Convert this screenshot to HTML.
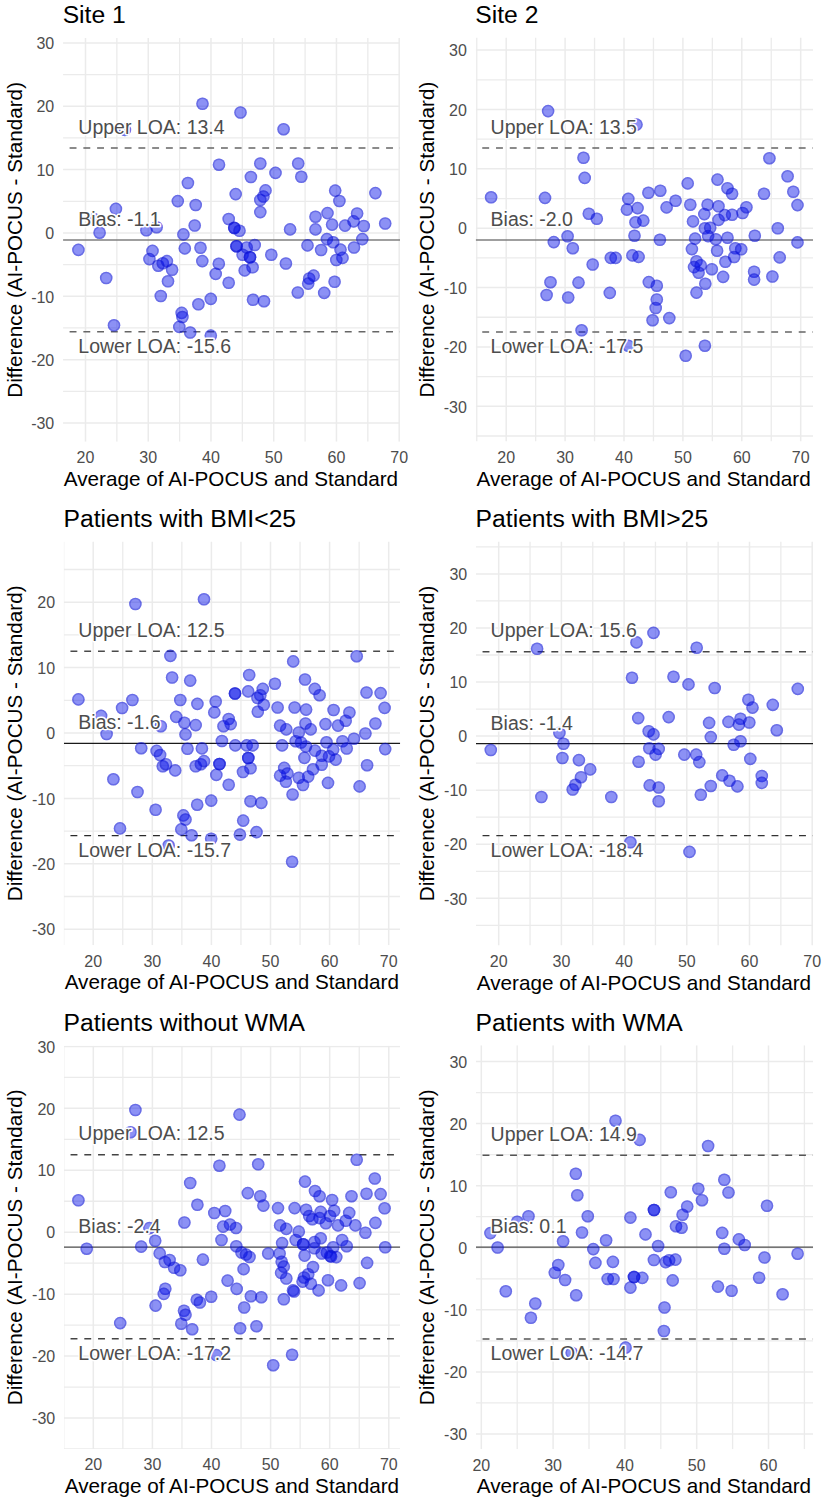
<!DOCTYPE html><html><head><meta charset="utf-8"><style>html,body{margin:0;padding:0;background:#fff;}svg{display:block;}text{font-family:"Liberation Sans", sans-serif;}</style></head><body>
<svg width="826" height="1504" viewBox="0 0 826 1504">
<rect width="826" height="1504" fill="#fff"/>
<defs><g id="pt"><circle r="6.3" fill="rgba(0,11,233,0.45)"/><circle r="5.55" fill="none" stroke="rgba(23,28,195,0.3)" stroke-width="1.5"/></g></defs>
<clipPath id="cp1"><rect x="63.05" y="38.05" width="336.95" height="403.65"/></clipPath>
<g clip-path="url(#cp1)">
<line x1="63.05" y1="391.32" x2="400" y2="391.32" stroke="#EBEBEB" stroke-width="1.3"/>
<line x1="63.05" y1="327.97" x2="400" y2="327.97" stroke="#EBEBEB" stroke-width="1.3"/>
<line x1="63.05" y1="264.62" x2="400" y2="264.62" stroke="#EBEBEB" stroke-width="1.3"/>
<line x1="63.05" y1="201.28" x2="400" y2="201.28" stroke="#EBEBEB" stroke-width="1.3"/>
<line x1="63.05" y1="137.93" x2="400" y2="137.93" stroke="#EBEBEB" stroke-width="1.3"/>
<line x1="116.87" y1="38.05" x2="116.87" y2="441.7" stroke="#EBEBEB" stroke-width="1.3"/>
<line x1="63.05" y1="74.58" x2="400" y2="74.58" stroke="#EBEBEB" stroke-width="1.3"/>
<line x1="179.61" y1="38.05" x2="179.61" y2="441.7" stroke="#EBEBEB" stroke-width="1.3"/>
<line x1="242.35" y1="38.05" x2="242.35" y2="441.7" stroke="#EBEBEB" stroke-width="1.3"/>
<line x1="305.09" y1="38.05" x2="305.09" y2="441.7" stroke="#EBEBEB" stroke-width="1.3"/>
<line x1="367.83" y1="38.05" x2="367.83" y2="441.7" stroke="#EBEBEB" stroke-width="1.3"/>
<line x1="63.05" y1="423" x2="400" y2="423" stroke="#EBEBEB" stroke-width="1.5"/>
<line x1="63.05" y1="359.65" x2="400" y2="359.65" stroke="#EBEBEB" stroke-width="1.5"/>
<line x1="63.05" y1="296.3" x2="400" y2="296.3" stroke="#EBEBEB" stroke-width="1.5"/>
<line x1="63.05" y1="232.95" x2="400" y2="232.95" stroke="#EBEBEB" stroke-width="1.5"/>
<line x1="63.05" y1="169.6" x2="400" y2="169.6" stroke="#EBEBEB" stroke-width="1.5"/>
<line x1="85.5" y1="38.05" x2="85.5" y2="441.7" stroke="#EBEBEB" stroke-width="1.5"/>
<line x1="63.05" y1="106.25" x2="400" y2="106.25" stroke="#EBEBEB" stroke-width="1.5"/>
<line x1="148.24" y1="38.05" x2="148.24" y2="441.7" stroke="#EBEBEB" stroke-width="1.5"/>
<line x1="63.05" y1="42.9" x2="400" y2="42.9" stroke="#EBEBEB" stroke-width="1.5"/>
<line x1="210.98" y1="38.05" x2="210.98" y2="441.7" stroke="#EBEBEB" stroke-width="1.5"/>
<line x1="273.72" y1="38.05" x2="273.72" y2="441.7" stroke="#EBEBEB" stroke-width="1.5"/>
<line x1="336.46" y1="38.05" x2="336.46" y2="441.7" stroke="#EBEBEB" stroke-width="1.5"/>
<line x1="399.2" y1="38.05" x2="399.2" y2="441.7" stroke="#EBEBEB" stroke-width="1.5"/>
<line x1="63.05" y1="148.06" x2="400" y2="148.06" stroke="#666" stroke-width="1.5" stroke-dasharray="6.9 6.86" stroke-dashoffset="-6.55"/>
<line x1="63.05" y1="239.92" x2="400" y2="239.92" stroke="#7f7f7f" stroke-width="1.5"/>
<line x1="63.05" y1="331.78" x2="400" y2="331.78" stroke="#666" stroke-width="1.5" stroke-dasharray="6.9 6.86" stroke-dashoffset="-6.55"/>
<use href="#pt" x="202.5" y="103.8"/>
<use href="#pt" x="219" y="164.7"/>
<use href="#pt" x="187.9" y="183"/>
<use href="#pt" x="124.9" y="129.9"/>
<use href="#pt" x="240.5" y="112.5"/>
<use href="#pt" x="283.6" y="129.2"/>
<use href="#pt" x="260.3" y="163.5"/>
<use href="#pt" x="298.2" y="163.5"/>
<use href="#pt" x="250.9" y="177"/>
<use href="#pt" x="275.5" y="172.9"/>
<use href="#pt" x="301.3" y="176.8"/>
<use href="#pt" x="235.7" y="194.1"/>
<use href="#pt" x="265.5" y="190.4"/>
<use href="#pt" x="375.4" y="193.1"/>
<use href="#pt" x="335.2" y="190.6"/>
<use href="#pt" x="177.8" y="201.1"/>
<use href="#pt" x="195.7" y="205"/>
<use href="#pt" x="115.9" y="208.9"/>
<use href="#pt" x="94" y="219"/>
<use href="#pt" x="99.6" y="232.7"/>
<use href="#pt" x="194.7" y="225.5"/>
<use href="#pt" x="146.4" y="230.3"/>
<use href="#pt" x="156.6" y="227.2"/>
<use href="#pt" x="183.4" y="234.4"/>
<use href="#pt" x="228.7" y="219"/>
<use href="#pt" x="78.4" y="249.9"/>
<use href="#pt" x="152.5" y="250.9"/>
<use href="#pt" x="149.4" y="259.1"/>
<use href="#pt" x="158.3" y="265.7"/>
<use href="#pt" x="162.8" y="263.2"/>
<use href="#pt" x="166.9" y="261.1"/>
<use href="#pt" x="172.1" y="269.8"/>
<use href="#pt" x="184.8" y="248.4"/>
<use href="#pt" x="200.5" y="247.8"/>
<use href="#pt" x="202.3" y="261.1"/>
<use href="#pt" x="218.8" y="263.8"/>
<use href="#pt" x="215.7" y="273.9"/>
<use href="#pt" x="106.2" y="278"/>
<use href="#pt" x="168" y="281.3"/>
<use href="#pt" x="228.7" y="282.8"/>
<use href="#pt" x="263.4" y="196.5"/>
<use href="#pt" x="260.3" y="200"/>
<use href="#pt" x="260.3" y="212.1"/>
<use href="#pt" x="339.4" y="201"/>
<use href="#pt" x="234.2" y="227.7"/>
<use href="#pt" x="234.4" y="228.1"/>
<use href="#pt" x="239.5" y="230.8"/>
<use href="#pt" x="290.1" y="229.4"/>
<use href="#pt" x="315.5" y="216.7"/>
<use href="#pt" x="327.5" y="213.1"/>
<use href="#pt" x="315.5" y="229.4"/>
<use href="#pt" x="332.1" y="224.6"/>
<use href="#pt" x="345" y="225.6"/>
<use href="#pt" x="357.1" y="213.5"/>
<use href="#pt" x="353.6" y="221.4"/>
<use href="#pt" x="363.8" y="226"/>
<use href="#pt" x="385.2" y="223.5"/>
<use href="#pt" x="362.3" y="239.1"/>
<use href="#pt" x="326.9" y="239.1"/>
<use href="#pt" x="333.2" y="242.3"/>
<use href="#pt" x="307.5" y="245.4"/>
<use href="#pt" x="321.1" y="250"/>
<use href="#pt" x="340.5" y="249.6"/>
<use href="#pt" x="354" y="247.5"/>
<use href="#pt" x="342.5" y="257.9"/>
<use href="#pt" x="336.3" y="260"/>
<use href="#pt" x="254.7" y="245"/>
<use href="#pt" x="236.5" y="246.2"/>
<use href="#pt" x="236.5" y="246.2"/>
<use href="#pt" x="246.7" y="247.5"/>
<use href="#pt" x="242.6" y="254.8"/>
<use href="#pt" x="250" y="257.2"/>
<use href="#pt" x="250" y="257.2"/>
<use href="#pt" x="252.6" y="267.3"/>
<use href="#pt" x="244.7" y="270.4"/>
<use href="#pt" x="271.3" y="254.8"/>
<use href="#pt" x="285.9" y="263.5"/>
<use href="#pt" x="313.6" y="275.6"/>
<use href="#pt" x="309.2" y="278.5"/>
<use href="#pt" x="308.2" y="283.6"/>
<use href="#pt" x="334.6" y="281.8"/>
<use href="#pt" x="160.8" y="296"/>
<use href="#pt" x="198.4" y="304.3"/>
<use href="#pt" x="210.8" y="298.9"/>
<use href="#pt" x="181.7" y="312.9"/>
<use href="#pt" x="182.4" y="317"/>
<use href="#pt" x="179.3" y="326.9"/>
<use href="#pt" x="190.2" y="332.5"/>
<use href="#pt" x="210.8" y="335.6"/>
<use href="#pt" x="114" y="325.3"/>
<use href="#pt" x="253" y="299.8"/>
<use href="#pt" x="264" y="301.2"/>
<use href="#pt" x="297.8" y="292.5"/>
<use href="#pt" x="324.2" y="292.9"/>
<text x="78.3" y="133.66" font-size="19.5" fill="#4D4D4D" stroke="#fff" stroke-width="3" paint-order="stroke" stroke-linejoin="round">Upper LOA: 13.4</text>
<text x="78.3" y="225.92" font-size="19.5" fill="#4D4D4D" stroke="#fff" stroke-width="3" paint-order="stroke" stroke-linejoin="round">Bias: -1.1</text>
<text x="78.3" y="352.88" font-size="19.5" fill="#4D4D4D" stroke="#fff" stroke-width="3" paint-order="stroke" stroke-linejoin="round">Lower LOA: -15.6</text>
</g>
<text x="62.65" y="23.45" font-size="24.7" fill="#000">Site 1</text>
<text x="54.25" y="429.2" font-size="16" fill="#4D4D4D" text-anchor="end">-30</text>
<text x="54.25" y="365.85" font-size="16" fill="#4D4D4D" text-anchor="end">-20</text>
<text x="54.25" y="302.5" font-size="16" fill="#4D4D4D" text-anchor="end">-10</text>
<text x="54.25" y="239.15" font-size="16" fill="#4D4D4D" text-anchor="end">0</text>
<text x="54.25" y="175.8" font-size="16" fill="#4D4D4D" text-anchor="end">10</text>
<text x="54.25" y="112.45" font-size="16" fill="#4D4D4D" text-anchor="end">20</text>
<text x="54.25" y="49.1" font-size="16" fill="#4D4D4D" text-anchor="end">30</text>
<text x="85.5" y="462.9" font-size="16" fill="#4D4D4D" text-anchor="middle">20</text>
<text x="148.24" y="462.9" font-size="16" fill="#4D4D4D" text-anchor="middle">30</text>
<text x="210.98" y="462.9" font-size="16" fill="#4D4D4D" text-anchor="middle">40</text>
<text x="273.72" y="462.9" font-size="16" fill="#4D4D4D" text-anchor="middle">50</text>
<text x="336.46" y="462.9" font-size="16" fill="#4D4D4D" text-anchor="middle">60</text>
<text x="399.2" y="462.9" font-size="16" fill="#4D4D4D" text-anchor="middle">70</text>
<text x="63.85" y="485.8" font-size="20.7" fill="#000">Average of AI-POCUS and Standard</text>
<text transform="translate(21.6,239.88) rotate(-90)" x="0" y="0" font-size="20.7" fill="#000" text-anchor="middle">Difference (AI-POCUS - Standard)</text>
<clipPath id="cp2"><rect x="475.7" y="37.6" width="337.4" height="403.9"/></clipPath>
<g clip-path="url(#cp2)">
<line x1="475.7" y1="436.01" x2="813.1" y2="436.01" stroke="#EBEBEB" stroke-width="1.3"/>
<line x1="475.7" y1="376.64" x2="813.1" y2="376.64" stroke="#EBEBEB" stroke-width="1.3"/>
<line x1="475.7" y1="317.27" x2="813.1" y2="317.27" stroke="#EBEBEB" stroke-width="1.3"/>
<line x1="475.7" y1="257.9" x2="813.1" y2="257.9" stroke="#EBEBEB" stroke-width="1.3"/>
<line x1="475.7" y1="198.53" x2="813.1" y2="198.53" stroke="#EBEBEB" stroke-width="1.3"/>
<line x1="476.75" y1="37.6" x2="476.75" y2="441.5" stroke="#EBEBEB" stroke-width="1.3"/>
<line x1="475.7" y1="139.16" x2="813.1" y2="139.16" stroke="#EBEBEB" stroke-width="1.3"/>
<line x1="535.65" y1="37.6" x2="535.65" y2="441.5" stroke="#EBEBEB" stroke-width="1.3"/>
<line x1="475.7" y1="79.78" x2="813.1" y2="79.78" stroke="#EBEBEB" stroke-width="1.3"/>
<line x1="594.55" y1="37.6" x2="594.55" y2="441.5" stroke="#EBEBEB" stroke-width="1.3"/>
<line x1="653.45" y1="37.6" x2="653.45" y2="441.5" stroke="#EBEBEB" stroke-width="1.3"/>
<line x1="712.35" y1="37.6" x2="712.35" y2="441.5" stroke="#EBEBEB" stroke-width="1.3"/>
<line x1="771.25" y1="37.6" x2="771.25" y2="441.5" stroke="#EBEBEB" stroke-width="1.3"/>
<line x1="475.7" y1="406.32" x2="813.1" y2="406.32" stroke="#EBEBEB" stroke-width="1.5"/>
<line x1="475.7" y1="346.95" x2="813.1" y2="346.95" stroke="#EBEBEB" stroke-width="1.5"/>
<line x1="475.7" y1="287.58" x2="813.1" y2="287.58" stroke="#EBEBEB" stroke-width="1.5"/>
<line x1="475.7" y1="228.21" x2="813.1" y2="228.21" stroke="#EBEBEB" stroke-width="1.5"/>
<line x1="475.7" y1="168.84" x2="813.1" y2="168.84" stroke="#EBEBEB" stroke-width="1.5"/>
<line x1="506.2" y1="37.6" x2="506.2" y2="441.5" stroke="#EBEBEB" stroke-width="1.5"/>
<line x1="475.7" y1="109.47" x2="813.1" y2="109.47" stroke="#EBEBEB" stroke-width="1.5"/>
<line x1="565.1" y1="37.6" x2="565.1" y2="441.5" stroke="#EBEBEB" stroke-width="1.5"/>
<line x1="475.7" y1="50.1" x2="813.1" y2="50.1" stroke="#EBEBEB" stroke-width="1.5"/>
<line x1="624" y1="37.6" x2="624" y2="441.5" stroke="#EBEBEB" stroke-width="1.5"/>
<line x1="682.9" y1="37.6" x2="682.9" y2="441.5" stroke="#EBEBEB" stroke-width="1.5"/>
<line x1="741.8" y1="37.6" x2="741.8" y2="441.5" stroke="#EBEBEB" stroke-width="1.5"/>
<line x1="800.7" y1="37.6" x2="800.7" y2="441.5" stroke="#EBEBEB" stroke-width="1.5"/>
<line x1="475.7" y1="148.06" x2="813.1" y2="148.06" stroke="#666" stroke-width="1.5" stroke-dasharray="6.9 6.86" stroke-dashoffset="-6.55"/>
<line x1="475.7" y1="240.08" x2="813.1" y2="240.08" stroke="#7f7f7f" stroke-width="1.5"/>
<line x1="475.7" y1="332.11" x2="813.1" y2="332.11" stroke="#666" stroke-width="1.5" stroke-dasharray="6.9 6.86" stroke-dashoffset="-6.55"/>
<use href="#pt" x="548.1" y="111.1"/>
<use href="#pt" x="636.5" y="124.6"/>
<use href="#pt" x="583.5" y="157.8"/>
<use href="#pt" x="584.7" y="177.9"/>
<use href="#pt" x="491.1" y="197.3"/>
<use href="#pt" x="545" y="197.9"/>
<use href="#pt" x="628.3" y="198.9"/>
<use href="#pt" x="769.4" y="158.2"/>
<use href="#pt" x="787.6" y="176.3"/>
<use href="#pt" x="793.3" y="191.8"/>
<use href="#pt" x="687.7" y="183.4"/>
<use href="#pt" x="717.5" y="179.6"/>
<use href="#pt" x="727.5" y="188.2"/>
<use href="#pt" x="732.1" y="193.8"/>
<use href="#pt" x="764" y="193.8"/>
<use href="#pt" x="648.4" y="192.8"/>
<use href="#pt" x="660.3" y="190.7"/>
<use href="#pt" x="675.6" y="200.8"/>
<use href="#pt" x="588.8" y="213.7"/>
<use href="#pt" x="596.8" y="218.8"/>
<use href="#pt" x="637.6" y="208.1"/>
<use href="#pt" x="626.9" y="209.6"/>
<use href="#pt" x="635.5" y="222.3"/>
<use href="#pt" x="643.3" y="220.6"/>
<use href="#pt" x="634.5" y="235.7"/>
<use href="#pt" x="567.6" y="236.3"/>
<use href="#pt" x="553.8" y="242.1"/>
<use href="#pt" x="572.8" y="248.2"/>
<use href="#pt" x="610.8" y="257.9"/>
<use href="#pt" x="615.6" y="257.9"/>
<use href="#pt" x="632.4" y="255.4"/>
<use href="#pt" x="638.6" y="256.9"/>
<use href="#pt" x="592.7" y="264.5"/>
<use href="#pt" x="550.5" y="282.2"/>
<use href="#pt" x="578.5" y="282.6"/>
<use href="#pt" x="609.8" y="292.9"/>
<use href="#pt" x="546.6" y="295"/>
<use href="#pt" x="568.2" y="297.5"/>
<use href="#pt" x="666.6" y="207.4"/>
<use href="#pt" x="690.3" y="204.7"/>
<use href="#pt" x="707.6" y="204.7"/>
<use href="#pt" x="718.5" y="206.3"/>
<use href="#pt" x="704.3" y="214.1"/>
<use href="#pt" x="693" y="221.4"/>
<use href="#pt" x="718.5" y="219.9"/>
<use href="#pt" x="724.8" y="215.1"/>
<use href="#pt" x="732.1" y="214.7"/>
<use href="#pt" x="742.6" y="213"/>
<use href="#pt" x="746.4" y="207.2"/>
<use href="#pt" x="797.5" y="205.1"/>
<use href="#pt" x="777.8" y="228.3"/>
<use href="#pt" x="754.8" y="235.7"/>
<use href="#pt" x="797.5" y="242.4"/>
<use href="#pt" x="659.9" y="239.8"/>
<use href="#pt" x="704.9" y="228.3"/>
<use href="#pt" x="710.2" y="227.7"/>
<use href="#pt" x="695.1" y="238.6"/>
<use href="#pt" x="708.1" y="236.1"/>
<use href="#pt" x="715.8" y="239.2"/>
<use href="#pt" x="727.5" y="237.7"/>
<use href="#pt" x="691.9" y="249.1"/>
<use href="#pt" x="717.1" y="250.7"/>
<use href="#pt" x="735.3" y="248.2"/>
<use href="#pt" x="741.2" y="249.3"/>
<use href="#pt" x="734.2" y="257"/>
<use href="#pt" x="725.4" y="261.8"/>
<use href="#pt" x="696.5" y="261.2"/>
<use href="#pt" x="694" y="267.1"/>
<use href="#pt" x="700.7" y="265.4"/>
<use href="#pt" x="698.6" y="272.7"/>
<use href="#pt" x="711.8" y="269.2"/>
<use href="#pt" x="723.1" y="276.9"/>
<use href="#pt" x="754.1" y="271.7"/>
<use href="#pt" x="754.1" y="279.6"/>
<use href="#pt" x="772.4" y="276.5"/>
<use href="#pt" x="779.7" y="257.4"/>
<use href="#pt" x="705.3" y="283.8"/>
<use href="#pt" x="696.5" y="292.6"/>
<use href="#pt" x="648.8" y="282.1"/>
<use href="#pt" x="656.8" y="285.8"/>
<use href="#pt" x="581.6" y="330.3"/>
<use href="#pt" x="628.3" y="345.7"/>
<use href="#pt" x="656.8" y="299.5"/>
<use href="#pt" x="655.7" y="308"/>
<use href="#pt" x="652.6" y="320.2"/>
<use href="#pt" x="669.3" y="318.1"/>
<use href="#pt" x="704.9" y="345.7"/>
<use href="#pt" x="685.7" y="355.8"/>
<text x="490.6" y="133.66" font-size="19.5" fill="#4D4D4D" stroke="#fff" stroke-width="3" paint-order="stroke" stroke-linejoin="round">Upper LOA: 13.5</text>
<text x="490.6" y="226.08" font-size="19.5" fill="#4D4D4D" stroke="#fff" stroke-width="3" paint-order="stroke" stroke-linejoin="round">Bias: -2.0</text>
<text x="490.6" y="353.21" font-size="19.5" fill="#4D4D4D" stroke="#fff" stroke-width="3" paint-order="stroke" stroke-linejoin="round">Lower LOA: -17.5</text>
</g>
<text x="475.3" y="23" font-size="24.7" fill="#000">Site 2</text>
<text x="466.9" y="412.52" font-size="16" fill="#4D4D4D" text-anchor="end">-30</text>
<text x="466.9" y="353.15" font-size="16" fill="#4D4D4D" text-anchor="end">-20</text>
<text x="466.9" y="293.78" font-size="16" fill="#4D4D4D" text-anchor="end">-10</text>
<text x="466.9" y="234.41" font-size="16" fill="#4D4D4D" text-anchor="end">0</text>
<text x="466.9" y="175.04" font-size="16" fill="#4D4D4D" text-anchor="end">10</text>
<text x="466.9" y="115.67" font-size="16" fill="#4D4D4D" text-anchor="end">20</text>
<text x="466.9" y="56.3" font-size="16" fill="#4D4D4D" text-anchor="end">30</text>
<text x="506.2" y="462.7" font-size="16" fill="#4D4D4D" text-anchor="middle">20</text>
<text x="565.1" y="462.7" font-size="16" fill="#4D4D4D" text-anchor="middle">30</text>
<text x="624" y="462.7" font-size="16" fill="#4D4D4D" text-anchor="middle">40</text>
<text x="682.9" y="462.7" font-size="16" fill="#4D4D4D" text-anchor="middle">50</text>
<text x="741.8" y="462.7" font-size="16" fill="#4D4D4D" text-anchor="middle">60</text>
<text x="800.7" y="462.7" font-size="16" fill="#4D4D4D" text-anchor="middle">70</text>
<text x="476.5" y="485.6" font-size="20.7" fill="#000">Average of AI-POCUS and Standard</text>
<text transform="translate(434.4,239.55) rotate(-90)" x="0" y="0" font-size="20.7" fill="#000" text-anchor="middle">Difference (AI-POCUS - Standard)</text>
<clipPath id="cp3"><rect x="63.9" y="541.4" width="336.3" height="403.9"/></clipPath>
<g clip-path="url(#cp3)">
<line x1="63.9" y1="896.5" x2="400.2" y2="896.5" stroke="#EBEBEB" stroke-width="1.3"/>
<line x1="63.9" y1="831.1" x2="400.2" y2="831.1" stroke="#EBEBEB" stroke-width="1.3"/>
<line x1="63.9" y1="765.7" x2="400.2" y2="765.7" stroke="#EBEBEB" stroke-width="1.3"/>
<line x1="63.9" y1="700.3" x2="400.2" y2="700.3" stroke="#EBEBEB" stroke-width="1.3"/>
<line x1="63.65" y1="541.4" x2="63.65" y2="945.3" stroke="#EBEBEB" stroke-width="1.3"/>
<line x1="63.9" y1="634.9" x2="400.2" y2="634.9" stroke="#EBEBEB" stroke-width="1.3"/>
<line x1="122.75" y1="541.4" x2="122.75" y2="945.3" stroke="#EBEBEB" stroke-width="1.3"/>
<line x1="63.9" y1="569.5" x2="400.2" y2="569.5" stroke="#EBEBEB" stroke-width="1.3"/>
<line x1="181.85" y1="541.4" x2="181.85" y2="945.3" stroke="#EBEBEB" stroke-width="1.3"/>
<line x1="240.95" y1="541.4" x2="240.95" y2="945.3" stroke="#EBEBEB" stroke-width="1.3"/>
<line x1="300.05" y1="541.4" x2="300.05" y2="945.3" stroke="#EBEBEB" stroke-width="1.3"/>
<line x1="359.15" y1="541.4" x2="359.15" y2="945.3" stroke="#EBEBEB" stroke-width="1.3"/>
<line x1="63.9" y1="929.2" x2="400.2" y2="929.2" stroke="#EBEBEB" stroke-width="1.5"/>
<line x1="63.9" y1="863.8" x2="400.2" y2="863.8" stroke="#EBEBEB" stroke-width="1.5"/>
<line x1="63.9" y1="798.4" x2="400.2" y2="798.4" stroke="#EBEBEB" stroke-width="1.5"/>
<line x1="63.9" y1="733" x2="400.2" y2="733" stroke="#EBEBEB" stroke-width="1.5"/>
<line x1="63.9" y1="667.6" x2="400.2" y2="667.6" stroke="#EBEBEB" stroke-width="1.5"/>
<line x1="93.2" y1="541.4" x2="93.2" y2="945.3" stroke="#EBEBEB" stroke-width="1.5"/>
<line x1="63.9" y1="602.2" x2="400.2" y2="602.2" stroke="#EBEBEB" stroke-width="1.5"/>
<line x1="152.3" y1="541.4" x2="152.3" y2="945.3" stroke="#EBEBEB" stroke-width="1.5"/>
<line x1="211.4" y1="541.4" x2="211.4" y2="945.3" stroke="#EBEBEB" stroke-width="1.5"/>
<line x1="270.5" y1="541.4" x2="270.5" y2="945.3" stroke="#EBEBEB" stroke-width="1.5"/>
<line x1="329.6" y1="541.4" x2="329.6" y2="945.3" stroke="#EBEBEB" stroke-width="1.5"/>
<line x1="388.7" y1="541.4" x2="388.7" y2="945.3" stroke="#EBEBEB" stroke-width="1.5"/>
<line x1="63.9" y1="651.25" x2="400.2" y2="651.25" stroke="#4a4a4a" stroke-width="1.3" stroke-dasharray="6.9 6.86" stroke-dashoffset="-6.55"/>
<line x1="63.9" y1="743.46" x2="400.2" y2="743.46" stroke="#1a1a1a" stroke-width="1.2"/>
<line x1="63.9" y1="835.68" x2="400.2" y2="835.68" stroke="#2a2a2a" stroke-width="1.3" stroke-dasharray="6.9 6.86" stroke-dashoffset="-6.55"/>
<use href="#pt" x="135.4" y="604"/>
<use href="#pt" x="204" y="599.3"/>
<use href="#pt" x="170.4" y="655.9"/>
<use href="#pt" x="172.1" y="677.5"/>
<use href="#pt" x="190.2" y="680.6"/>
<use href="#pt" x="356.7" y="656.2"/>
<use href="#pt" x="293.2" y="661.4"/>
<use href="#pt" x="249.2" y="675"/>
<use href="#pt" x="274.9" y="683.7"/>
<use href="#pt" x="305" y="679.5"/>
<use href="#pt" x="314.8" y="688.9"/>
<use href="#pt" x="319.6" y="695.2"/>
<use href="#pt" x="262.8" y="688.9"/>
<use href="#pt" x="248.2" y="691.4"/>
<use href="#pt" x="235" y="693.5"/>
<use href="#pt" x="235" y="693.5"/>
<use href="#pt" x="260.3" y="695.2"/>
<use href="#pt" x="257.5" y="698"/>
<use href="#pt" x="366.5" y="692.5"/>
<use href="#pt" x="380.6" y="693.1"/>
<use href="#pt" x="78.4" y="699.4"/>
<use href="#pt" x="132.4" y="700"/>
<use href="#pt" x="122.1" y="708"/>
<use href="#pt" x="101.1" y="715.9"/>
<use href="#pt" x="106.6" y="734"/>
<use href="#pt" x="160.8" y="726.2"/>
<use href="#pt" x="180.3" y="700"/>
<use href="#pt" x="197.4" y="703.9"/>
<use href="#pt" x="215.7" y="701.5"/>
<use href="#pt" x="214.3" y="712.4"/>
<use href="#pt" x="176.2" y="716.9"/>
<use href="#pt" x="184.4" y="722.7"/>
<use href="#pt" x="195.7" y="725.1"/>
<use href="#pt" x="185.5" y="734.4"/>
<use href="#pt" x="228.7" y="719"/>
<use href="#pt" x="230.7" y="724.1"/>
<use href="#pt" x="223.5" y="726.2"/>
<use href="#pt" x="221.9" y="741"/>
<use href="#pt" x="141.2" y="748.2"/>
<use href="#pt" x="156.6" y="750.9"/>
<use href="#pt" x="160.1" y="755"/>
<use href="#pt" x="162.8" y="766.3"/>
<use href="#pt" x="165.9" y="764.2"/>
<use href="#pt" x="175.2" y="770.4"/>
<use href="#pt" x="187.5" y="748.8"/>
<use href="#pt" x="201.9" y="748.4"/>
<use href="#pt" x="195.7" y="766.3"/>
<use href="#pt" x="200.9" y="764.2"/>
<use href="#pt" x="204" y="761.1"/>
<use href="#pt" x="219.5" y="764"/>
<use href="#pt" x="219.5" y="764"/>
<use href="#pt" x="216.3" y="774.9"/>
<use href="#pt" x="113.4" y="779.3"/>
<use href="#pt" x="228.7" y="784.8"/>
<use href="#pt" x="263.8" y="704.8"/>
<use href="#pt" x="257.8" y="711.7"/>
<use href="#pt" x="277.6" y="707.5"/>
<use href="#pt" x="294.6" y="707.5"/>
<use href="#pt" x="306.1" y="709.6"/>
<use href="#pt" x="333.6" y="710"/>
<use href="#pt" x="349.4" y="712.5"/>
<use href="#pt" x="345.7" y="720.8"/>
<use href="#pt" x="384.6" y="707.9"/>
<use href="#pt" x="375.4" y="723.5"/>
<use href="#pt" x="365.4" y="733.5"/>
<use href="#pt" x="354" y="738.7"/>
<use href="#pt" x="342.5" y="741.2"/>
<use href="#pt" x="346.7" y="748.5"/>
<use href="#pt" x="385.2" y="749.1"/>
<use href="#pt" x="367.1" y="765.2"/>
<use href="#pt" x="359.6" y="786.4"/>
<use href="#pt" x="328" y="782.9"/>
<use href="#pt" x="280.1" y="725.6"/>
<use href="#pt" x="286.3" y="729.4"/>
<use href="#pt" x="305.5" y="723.5"/>
<use href="#pt" x="310.7" y="729.4"/>
<use href="#pt" x="298.8" y="732.5"/>
<use href="#pt" x="295.7" y="741.2"/>
<use href="#pt" x="301" y="742.5"/>
<use href="#pt" x="306" y="746.5"/>
<use href="#pt" x="325.5" y="724.1"/>
<use href="#pt" x="338" y="725.6"/>
<use href="#pt" x="326.5" y="742.3"/>
<use href="#pt" x="333.2" y="749.6"/>
<use href="#pt" x="315" y="750.6"/>
<use href="#pt" x="321.7" y="755.8"/>
<use href="#pt" x="329" y="756.4"/>
<use href="#pt" x="335.7" y="759.6"/>
<use href="#pt" x="304.4" y="757.9"/>
<use href="#pt" x="321.7" y="764.8"/>
<use href="#pt" x="313" y="769.3"/>
<use href="#pt" x="308.2" y="776.6"/>
<use href="#pt" x="298.8" y="777.7"/>
<use href="#pt" x="303" y="785"/>
<use href="#pt" x="284.2" y="767.9"/>
<use href="#pt" x="287.4" y="773.5"/>
<use href="#pt" x="280.1" y="775.6"/>
<use href="#pt" x="285.9" y="781.8"/>
<use href="#pt" x="282.1" y="745.4"/>
<use href="#pt" x="235.3" y="745.4"/>
<use href="#pt" x="246.7" y="745.4"/>
<use href="#pt" x="252.6" y="745.4"/>
<use href="#pt" x="248.3" y="758"/>
<use href="#pt" x="248.3" y="758"/>
<use href="#pt" x="250.5" y="768.3"/>
<use href="#pt" x="243" y="772"/>
<use href="#pt" x="292.6" y="794.5"/>
<use href="#pt" x="137.5" y="792"/>
<use href="#pt" x="155.6" y="809.8"/>
<use href="#pt" x="197.2" y="804.7"/>
<use href="#pt" x="211.2" y="800.6"/>
<use href="#pt" x="183.4" y="815.4"/>
<use href="#pt" x="185.5" y="819.5"/>
<use href="#pt" x="181.3" y="829.4"/>
<use href="#pt" x="191.6" y="835.2"/>
<use href="#pt" x="211.2" y="838.7"/>
<use href="#pt" x="120" y="828.4"/>
<use href="#pt" x="168.6" y="845.5"/>
<use href="#pt" x="250.5" y="801.2"/>
<use href="#pt" x="261.3" y="802.9"/>
<use href="#pt" x="243.2" y="820.6"/>
<use href="#pt" x="239.9" y="834.6"/>
<use href="#pt" x="256.5" y="832.1"/>
<use href="#pt" x="292.1" y="861.8"/>
<text x="78.3" y="636.85" font-size="19.5" fill="#4D4D4D" stroke="#fff" stroke-width="3" paint-order="stroke" stroke-linejoin="round">Upper LOA: 12.5</text>
<text x="78.3" y="729.46" font-size="19.5" fill="#4D4D4D" stroke="#fff" stroke-width="3" paint-order="stroke" stroke-linejoin="round">Bias: -1.6</text>
<text x="78.3" y="856.78" font-size="19.5" fill="#4D4D4D" stroke="#fff" stroke-width="3" paint-order="stroke" stroke-linejoin="round">Lower LOA: -15.7</text>
</g>
<text x="63.5" y="526.8" font-size="24.7" fill="#000">Patients with BMI&lt;25</text>
<text x="55.1" y="935.4" font-size="16" fill="#4D4D4D" text-anchor="end">-30</text>
<text x="55.1" y="870" font-size="16" fill="#4D4D4D" text-anchor="end">-20</text>
<text x="55.1" y="804.6" font-size="16" fill="#4D4D4D" text-anchor="end">-10</text>
<text x="55.1" y="739.2" font-size="16" fill="#4D4D4D" text-anchor="end">0</text>
<text x="55.1" y="673.8" font-size="16" fill="#4D4D4D" text-anchor="end">10</text>
<text x="55.1" y="608.4" font-size="16" fill="#4D4D4D" text-anchor="end">20</text>
<text x="93.2" y="966.5" font-size="16" fill="#4D4D4D" text-anchor="middle">20</text>
<text x="152.3" y="966.5" font-size="16" fill="#4D4D4D" text-anchor="middle">30</text>
<text x="211.4" y="966.5" font-size="16" fill="#4D4D4D" text-anchor="middle">40</text>
<text x="270.5" y="966.5" font-size="16" fill="#4D4D4D" text-anchor="middle">50</text>
<text x="329.6" y="966.5" font-size="16" fill="#4D4D4D" text-anchor="middle">60</text>
<text x="388.7" y="966.5" font-size="16" fill="#4D4D4D" text-anchor="middle">70</text>
<text x="64.7" y="989.4" font-size="20.7" fill="#000">Average of AI-POCUS and Standard</text>
<text transform="translate(21.6,743.35) rotate(-90)" x="0" y="0" font-size="20.7" fill="#000" text-anchor="middle">Difference (AI-POCUS - Standard)</text>
<clipPath id="cp4"><rect x="476" y="541.4" width="337" height="404"/></clipPath>
<g clip-path="url(#cp4)">
<line x1="476" y1="925.36" x2="813" y2="925.36" stroke="#EBEBEB" stroke-width="1.3"/>
<line x1="476" y1="871.28" x2="813" y2="871.28" stroke="#EBEBEB" stroke-width="1.3"/>
<line x1="476" y1="817.21" x2="813" y2="817.21" stroke="#EBEBEB" stroke-width="1.3"/>
<line x1="476" y1="763.14" x2="813" y2="763.14" stroke="#EBEBEB" stroke-width="1.3"/>
<line x1="476" y1="709.08" x2="813" y2="709.08" stroke="#EBEBEB" stroke-width="1.3"/>
<line x1="476" y1="655" x2="813" y2="655" stroke="#EBEBEB" stroke-width="1.3"/>
<line x1="530.05" y1="541.4" x2="530.05" y2="945.4" stroke="#EBEBEB" stroke-width="1.3"/>
<line x1="476" y1="600.93" x2="813" y2="600.93" stroke="#EBEBEB" stroke-width="1.3"/>
<line x1="592.75" y1="541.4" x2="592.75" y2="945.4" stroke="#EBEBEB" stroke-width="1.3"/>
<line x1="476" y1="546.87" x2="813" y2="546.87" stroke="#EBEBEB" stroke-width="1.3"/>
<line x1="655.45" y1="541.4" x2="655.45" y2="945.4" stroke="#EBEBEB" stroke-width="1.3"/>
<line x1="718.15" y1="541.4" x2="718.15" y2="945.4" stroke="#EBEBEB" stroke-width="1.3"/>
<line x1="780.85" y1="541.4" x2="780.85" y2="945.4" stroke="#EBEBEB" stroke-width="1.3"/>
<line x1="476" y1="898.32" x2="813" y2="898.32" stroke="#EBEBEB" stroke-width="1.5"/>
<line x1="476" y1="844.25" x2="813" y2="844.25" stroke="#EBEBEB" stroke-width="1.5"/>
<line x1="476" y1="790.18" x2="813" y2="790.18" stroke="#EBEBEB" stroke-width="1.5"/>
<line x1="476" y1="736.11" x2="813" y2="736.11" stroke="#EBEBEB" stroke-width="1.5"/>
<line x1="476" y1="682.04" x2="813" y2="682.04" stroke="#EBEBEB" stroke-width="1.5"/>
<line x1="498.7" y1="541.4" x2="498.7" y2="945.4" stroke="#EBEBEB" stroke-width="1.5"/>
<line x1="476" y1="627.97" x2="813" y2="627.97" stroke="#EBEBEB" stroke-width="1.5"/>
<line x1="561.4" y1="541.4" x2="561.4" y2="945.4" stroke="#EBEBEB" stroke-width="1.5"/>
<line x1="476" y1="573.9" x2="813" y2="573.9" stroke="#EBEBEB" stroke-width="1.5"/>
<line x1="624.1" y1="541.4" x2="624.1" y2="945.4" stroke="#EBEBEB" stroke-width="1.5"/>
<line x1="686.8" y1="541.4" x2="686.8" y2="945.4" stroke="#EBEBEB" stroke-width="1.5"/>
<line x1="749.5" y1="541.4" x2="749.5" y2="945.4" stroke="#EBEBEB" stroke-width="1.5"/>
<line x1="812.2" y1="541.4" x2="812.2" y2="945.4" stroke="#EBEBEB" stroke-width="1.5"/>
<line x1="476" y1="651.76" x2="813" y2="651.76" stroke="#474747" stroke-width="1.3" stroke-dasharray="6.9 6.86" stroke-dashoffset="-6.55"/>
<line x1="476" y1="743.68" x2="813" y2="743.68" stroke="#1a1a1a" stroke-width="1.2"/>
<line x1="476" y1="835.6" x2="813" y2="835.6" stroke="#333" stroke-width="1.3" stroke-dasharray="6.9 6.86" stroke-dashoffset="-6.55"/>
<use href="#pt" x="537.1" y="648.8"/>
<use href="#pt" x="636.5" y="642.4"/>
<use href="#pt" x="632" y="677.8"/>
<use href="#pt" x="653.5" y="632.9"/>
<use href="#pt" x="696.7" y="647.7"/>
<use href="#pt" x="673.5" y="676.8"/>
<use href="#pt" x="688.5" y="684.4"/>
<use href="#pt" x="714.7" y="688"/>
<use href="#pt" x="748.4" y="699.7"/>
<use href="#pt" x="752.5" y="707.6"/>
<use href="#pt" x="772.8" y="704.9"/>
<use href="#pt" x="797.8" y="688.9"/>
<use href="#pt" x="490.8" y="750"/>
<use href="#pt" x="559.4" y="732.9"/>
<use href="#pt" x="563.5" y="743.8"/>
<use href="#pt" x="562.4" y="758"/>
<use href="#pt" x="578.9" y="760.1"/>
<use href="#pt" x="590.2" y="769.4"/>
<use href="#pt" x="581" y="777.2"/>
<use href="#pt" x="575.4" y="784.8"/>
<use href="#pt" x="572.7" y="789.5"/>
<use href="#pt" x="541.4" y="797"/>
<use href="#pt" x="611.3" y="797"/>
<use href="#pt" x="638.2" y="718.1"/>
<use href="#pt" x="638.6" y="761.7"/>
<use href="#pt" x="668.7" y="717.1"/>
<use href="#pt" x="648.7" y="731.2"/>
<use href="#pt" x="653.5" y="734.4"/>
<use href="#pt" x="649.3" y="748.3"/>
<use href="#pt" x="658.7" y="748.9"/>
<use href="#pt" x="655.6" y="754.6"/>
<use href="#pt" x="684.3" y="754.6"/>
<use href="#pt" x="696.2" y="754.6"/>
<use href="#pt" x="699.3" y="762.1"/>
<use href="#pt" x="709.1" y="722.9"/>
<use href="#pt" x="710.8" y="737.1"/>
<use href="#pt" x="728.5" y="721.9"/>
<use href="#pt" x="740.5" y="718.7"/>
<use href="#pt" x="738.9" y="724.6"/>
<use href="#pt" x="749.3" y="722.5"/>
<use href="#pt" x="776.8" y="730.2"/>
<use href="#pt" x="733.7" y="744.8"/>
<use href="#pt" x="740.5" y="741.2"/>
<use href="#pt" x="750.3" y="758.9"/>
<use href="#pt" x="722.2" y="775.4"/>
<use href="#pt" x="729.5" y="780.8"/>
<use href="#pt" x="737.4" y="786.4"/>
<use href="#pt" x="761.8" y="776"/>
<use href="#pt" x="761.8" y="782.9"/>
<use href="#pt" x="710.8" y="786"/>
<use href="#pt" x="700.8" y="794.8"/>
<use href="#pt" x="649.7" y="785.4"/>
<use href="#pt" x="658.7" y="787.5"/>
<use href="#pt" x="658.7" y="801.3"/>
<use href="#pt" x="630.4" y="842.3"/>
<use href="#pt" x="689.5" y="851.9"/>
<text x="490.6" y="637.36" font-size="19.5" fill="#4D4D4D" stroke="#fff" stroke-width="3" paint-order="stroke" stroke-linejoin="round">Upper LOA: 15.6</text>
<text x="490.6" y="729.68" font-size="19.5" fill="#4D4D4D" stroke="#fff" stroke-width="3" paint-order="stroke" stroke-linejoin="round">Bias: -1.4</text>
<text x="490.6" y="856.7" font-size="19.5" fill="#4D4D4D" stroke="#fff" stroke-width="3" paint-order="stroke" stroke-linejoin="round">Lower LOA: -18.4</text>
</g>
<text x="475.6" y="526.8" font-size="24.7" fill="#000">Patients with BMI&gt;25</text>
<text x="467.2" y="904.52" font-size="16" fill="#4D4D4D" text-anchor="end">-30</text>
<text x="467.2" y="850.45" font-size="16" fill="#4D4D4D" text-anchor="end">-20</text>
<text x="467.2" y="796.38" font-size="16" fill="#4D4D4D" text-anchor="end">-10</text>
<text x="467.2" y="742.31" font-size="16" fill="#4D4D4D" text-anchor="end">0</text>
<text x="467.2" y="688.24" font-size="16" fill="#4D4D4D" text-anchor="end">10</text>
<text x="467.2" y="634.17" font-size="16" fill="#4D4D4D" text-anchor="end">20</text>
<text x="467.2" y="580.1" font-size="16" fill="#4D4D4D" text-anchor="end">30</text>
<text x="498.7" y="966.6" font-size="16" fill="#4D4D4D" text-anchor="middle">20</text>
<text x="561.4" y="966.6" font-size="16" fill="#4D4D4D" text-anchor="middle">30</text>
<text x="624.1" y="966.6" font-size="16" fill="#4D4D4D" text-anchor="middle">40</text>
<text x="686.8" y="966.6" font-size="16" fill="#4D4D4D" text-anchor="middle">50</text>
<text x="749.5" y="966.6" font-size="16" fill="#4D4D4D" text-anchor="middle">60</text>
<text x="812.2" y="966.6" font-size="16" fill="#4D4D4D" text-anchor="middle">70</text>
<text x="476.8" y="989.5" font-size="20.7" fill="#000">Average of AI-POCUS and Standard</text>
<text transform="translate(434.4,743.4) rotate(-90)" x="0" y="0" font-size="20.7" fill="#000" text-anchor="middle">Difference (AI-POCUS - Standard)</text>
<clipPath id="cp5"><rect x="64" y="1045.7" width="336.2" height="403.3"/></clipPath>
<g clip-path="url(#cp5)">
<line x1="64" y1="1449.01" x2="400.2" y2="1449.01" stroke="#EBEBEB" stroke-width="1.3"/>
<line x1="64" y1="1387.07" x2="400.2" y2="1387.07" stroke="#EBEBEB" stroke-width="1.3"/>
<line x1="64" y1="1325.13" x2="400.2" y2="1325.13" stroke="#EBEBEB" stroke-width="1.3"/>
<line x1="64" y1="1263.19" x2="400.2" y2="1263.19" stroke="#EBEBEB" stroke-width="1.3"/>
<line x1="64" y1="1201.25" x2="400.2" y2="1201.25" stroke="#EBEBEB" stroke-width="1.3"/>
<line x1="63.75" y1="1045.7" x2="63.75" y2="1449" stroke="#EBEBEB" stroke-width="1.3"/>
<line x1="64" y1="1139.31" x2="400.2" y2="1139.31" stroke="#EBEBEB" stroke-width="1.3"/>
<line x1="122.85" y1="1045.7" x2="122.85" y2="1449" stroke="#EBEBEB" stroke-width="1.3"/>
<line x1="64" y1="1077.37" x2="400.2" y2="1077.37" stroke="#EBEBEB" stroke-width="1.3"/>
<line x1="181.95" y1="1045.7" x2="181.95" y2="1449" stroke="#EBEBEB" stroke-width="1.3"/>
<line x1="241.05" y1="1045.7" x2="241.05" y2="1449" stroke="#EBEBEB" stroke-width="1.3"/>
<line x1="300.15" y1="1045.7" x2="300.15" y2="1449" stroke="#EBEBEB" stroke-width="1.3"/>
<line x1="359.25" y1="1045.7" x2="359.25" y2="1449" stroke="#EBEBEB" stroke-width="1.3"/>
<line x1="64" y1="1418.04" x2="400.2" y2="1418.04" stroke="#EBEBEB" stroke-width="1.5"/>
<line x1="64" y1="1356.1" x2="400.2" y2="1356.1" stroke="#EBEBEB" stroke-width="1.5"/>
<line x1="64" y1="1294.16" x2="400.2" y2="1294.16" stroke="#EBEBEB" stroke-width="1.5"/>
<line x1="64" y1="1232.22" x2="400.2" y2="1232.22" stroke="#EBEBEB" stroke-width="1.5"/>
<line x1="64" y1="1170.28" x2="400.2" y2="1170.28" stroke="#EBEBEB" stroke-width="1.5"/>
<line x1="93.3" y1="1045.7" x2="93.3" y2="1449" stroke="#EBEBEB" stroke-width="1.5"/>
<line x1="64" y1="1108.34" x2="400.2" y2="1108.34" stroke="#EBEBEB" stroke-width="1.5"/>
<line x1="152.4" y1="1045.7" x2="152.4" y2="1449" stroke="#EBEBEB" stroke-width="1.5"/>
<line x1="64" y1="1046.4" x2="400.2" y2="1046.4" stroke="#EBEBEB" stroke-width="1.5"/>
<line x1="211.5" y1="1045.7" x2="211.5" y2="1449" stroke="#EBEBEB" stroke-width="1.5"/>
<line x1="270.6" y1="1045.7" x2="270.6" y2="1449" stroke="#EBEBEB" stroke-width="1.5"/>
<line x1="329.7" y1="1045.7" x2="329.7" y2="1449" stroke="#EBEBEB" stroke-width="1.5"/>
<line x1="388.8" y1="1045.7" x2="388.8" y2="1449" stroke="#EBEBEB" stroke-width="1.5"/>
<line x1="64" y1="1154.8" x2="400.2" y2="1154.8" stroke="#444" stroke-width="1.4" stroke-dasharray="6.9 6.86" stroke-dashoffset="-6.55"/>
<line x1="64" y1="1247.09" x2="400.2" y2="1247.09" stroke="#4a4a4a" stroke-width="1.4"/>
<line x1="64" y1="1338.76" x2="400.2" y2="1338.76" stroke="#444" stroke-width="1.4" stroke-dasharray="6.9 6.86" stroke-dashoffset="-6.55"/>
<use href="#pt" x="135.4" y="1110"/>
<use href="#pt" x="130.5" y="1132.2"/>
<use href="#pt" x="219.4" y="1165.7"/>
<use href="#pt" x="190.2" y="1183"/>
<use href="#pt" x="239.5" y="1114.6"/>
<use href="#pt" x="258.2" y="1164.3"/>
<use href="#pt" x="356.7" y="1159.8"/>
<use href="#pt" x="305" y="1181.6"/>
<use href="#pt" x="374.8" y="1178.5"/>
<use href="#pt" x="247.8" y="1193.1"/>
<use href="#pt" x="260.3" y="1196.2"/>
<use href="#pt" x="315" y="1191"/>
<use href="#pt" x="319.6" y="1196.2"/>
<use href="#pt" x="332.1" y="1200"/>
<use href="#pt" x="351.5" y="1196.2"/>
<use href="#pt" x="366.5" y="1193.7"/>
<use href="#pt" x="380.6" y="1194.1"/>
<use href="#pt" x="78.4" y="1200.3"/>
<use href="#pt" x="197.4" y="1204.8"/>
<use href="#pt" x="214.3" y="1213"/>
<use href="#pt" x="225.2" y="1211"/>
<use href="#pt" x="184.4" y="1222.5"/>
<use href="#pt" x="223.1" y="1226.6"/>
<use href="#pt" x="230" y="1224.5"/>
<use href="#pt" x="236" y="1228"/>
<use href="#pt" x="149.4" y="1228.1"/>
<use href="#pt" x="155.2" y="1240.8"/>
<use href="#pt" x="141.2" y="1246.6"/>
<use href="#pt" x="86.7" y="1248.7"/>
<use href="#pt" x="221.5" y="1240"/>
<use href="#pt" x="159.7" y="1253.4"/>
<use href="#pt" x="164.9" y="1262"/>
<use href="#pt" x="169.6" y="1260"/>
<use href="#pt" x="174.1" y="1267.8"/>
<use href="#pt" x="180.3" y="1270.3"/>
<use href="#pt" x="202.9" y="1259.6"/>
<use href="#pt" x="227.6" y="1280.6"/>
<use href="#pt" x="165.3" y="1288.8"/>
<use href="#pt" x="163.8" y="1293.9"/>
<use href="#pt" x="263.4" y="1205.6"/>
<use href="#pt" x="278" y="1208.1"/>
<use href="#pt" x="294.6" y="1208.1"/>
<use href="#pt" x="306.1" y="1209.8"/>
<use href="#pt" x="384.6" y="1208.3"/>
<use href="#pt" x="334.2" y="1210.8"/>
<use href="#pt" x="320.7" y="1211.9"/>
<use href="#pt" x="309.2" y="1216"/>
<use href="#pt" x="312.3" y="1219.2"/>
<use href="#pt" x="319.6" y="1218.1"/>
<use href="#pt" x="330" y="1216"/>
<use href="#pt" x="325.9" y="1223.3"/>
<use href="#pt" x="338" y="1225.4"/>
<use href="#pt" x="349.2" y="1212.9"/>
<use href="#pt" x="345.7" y="1220.8"/>
<use href="#pt" x="355.4" y="1225.4"/>
<use href="#pt" x="365.4" y="1232.7"/>
<use href="#pt" x="375.4" y="1222.9"/>
<use href="#pt" x="385.2" y="1247.3"/>
<use href="#pt" x="367.1" y="1262.9"/>
<use href="#pt" x="359.6" y="1283.1"/>
<use href="#pt" x="341.1" y="1285.4"/>
<use href="#pt" x="328" y="1280.2"/>
<use href="#pt" x="342.1" y="1240"/>
<use href="#pt" x="346.7" y="1246.2"/>
<use href="#pt" x="333.2" y="1247.3"/>
<use href="#pt" x="326.9" y="1252.5"/>
<use href="#pt" x="331.1" y="1256.6"/>
<use href="#pt" x="330.3" y="1256"/>
<use href="#pt" x="336.3" y="1257.1"/>
<use href="#pt" x="321.7" y="1253.5"/>
<use href="#pt" x="320.7" y="1238.3"/>
<use href="#pt" x="314.4" y="1242.1"/>
<use href="#pt" x="314.4" y="1248.3"/>
<use href="#pt" x="303.2" y="1244.2"/>
<use href="#pt" x="303.2" y="1244.2"/>
<use href="#pt" x="298.8" y="1231.6"/>
<use href="#pt" x="295.7" y="1240"/>
<use href="#pt" x="304.6" y="1255.6"/>
<use href="#pt" x="280.1" y="1225.4"/>
<use href="#pt" x="286.3" y="1228.9"/>
<use href="#pt" x="282.1" y="1243.1"/>
<use href="#pt" x="279.6" y="1253.5"/>
<use href="#pt" x="268.2" y="1253.5"/>
<use href="#pt" x="281.7" y="1261.8"/>
<use href="#pt" x="283.8" y="1266.6"/>
<use href="#pt" x="281.1" y="1272.9"/>
<use href="#pt" x="286.3" y="1278.5"/>
<use href="#pt" x="313" y="1267"/>
<use href="#pt" x="308.2" y="1274.3"/>
<use href="#pt" x="304" y="1277.5"/>
<use href="#pt" x="302.6" y="1281.6"/>
<use href="#pt" x="310.9" y="1283.7"/>
<use href="#pt" x="318.6" y="1290.4"/>
<use href="#pt" x="293" y="1290.4"/>
<use href="#pt" x="294" y="1291.5"/>
<use href="#pt" x="283.8" y="1299.3"/>
<use href="#pt" x="236.3" y="1246.2"/>
<use href="#pt" x="241.5" y="1252.5"/>
<use href="#pt" x="246" y="1254.5"/>
<use href="#pt" x="249.5" y="1257"/>
<use href="#pt" x="243.6" y="1269.1"/>
<use href="#pt" x="236.7" y="1288.9"/>
<use href="#pt" x="250.9" y="1296.2"/>
<use href="#pt" x="261.3" y="1297.2"/>
<use href="#pt" x="155.6" y="1305.6"/>
<use href="#pt" x="120.2" y="1323.1"/>
<use href="#pt" x="196.8" y="1299.8"/>
<use href="#pt" x="199.9" y="1302.5"/>
<use href="#pt" x="211.2" y="1296.7"/>
<use href="#pt" x="184" y="1310.7"/>
<use href="#pt" x="185.5" y="1314.8"/>
<use href="#pt" x="181.3" y="1323.7"/>
<use href="#pt" x="192.2" y="1329.2"/>
<use href="#pt" x="216.3" y="1355"/>
<use href="#pt" x="244.2" y="1307.5"/>
<use href="#pt" x="240.1" y="1328.3"/>
<use href="#pt" x="256.5" y="1326.2"/>
<use href="#pt" x="292.1" y="1354.8"/>
<use href="#pt" x="273.2" y="1365.2"/>
<text x="78.3" y="1140.39" font-size="19.5" fill="#4D4D4D" stroke="#fff" stroke-width="3" paint-order="stroke" stroke-linejoin="round">Upper LOA: 12.5</text>
<text x="78.3" y="1233.09" font-size="19.5" fill="#4D4D4D" stroke="#fff" stroke-width="3" paint-order="stroke" stroke-linejoin="round">Bias: -2.4</text>
<text x="78.3" y="1359.86" font-size="19.5" fill="#4D4D4D" stroke="#fff" stroke-width="3" paint-order="stroke" stroke-linejoin="round">Lower LOA: -17.2</text>
</g>
<text x="63.6" y="1031.1" font-size="24.7" fill="#000">Patients without WMA</text>
<text x="55.2" y="1424.24" font-size="16" fill="#4D4D4D" text-anchor="end">-30</text>
<text x="55.2" y="1362.3" font-size="16" fill="#4D4D4D" text-anchor="end">-20</text>
<text x="55.2" y="1300.36" font-size="16" fill="#4D4D4D" text-anchor="end">-10</text>
<text x="55.2" y="1238.42" font-size="16" fill="#4D4D4D" text-anchor="end">0</text>
<text x="55.2" y="1176.48" font-size="16" fill="#4D4D4D" text-anchor="end">10</text>
<text x="55.2" y="1114.54" font-size="16" fill="#4D4D4D" text-anchor="end">20</text>
<text x="55.2" y="1052.6" font-size="16" fill="#4D4D4D" text-anchor="end">30</text>
<text x="93.3" y="1470.2" font-size="16" fill="#4D4D4D" text-anchor="middle">20</text>
<text x="152.4" y="1470.2" font-size="16" fill="#4D4D4D" text-anchor="middle">30</text>
<text x="211.5" y="1470.2" font-size="16" fill="#4D4D4D" text-anchor="middle">40</text>
<text x="270.6" y="1470.2" font-size="16" fill="#4D4D4D" text-anchor="middle">50</text>
<text x="329.7" y="1470.2" font-size="16" fill="#4D4D4D" text-anchor="middle">60</text>
<text x="388.8" y="1470.2" font-size="16" fill="#4D4D4D" text-anchor="middle">70</text>
<text x="64.8" y="1493.1" font-size="20.7" fill="#000">Average of AI-POCUS and Standard</text>
<text transform="translate(21.6,1247.35) rotate(-90)" x="0" y="0" font-size="20.7" fill="#000" text-anchor="middle">Difference (AI-POCUS - Standard)</text>
<clipPath id="cp6"><rect x="476" y="1045.3" width="337.1" height="404"/></clipPath>
<g clip-path="url(#cp6)">
<line x1="476" y1="1402.94" x2="813.1" y2="1402.94" stroke="#EBEBEB" stroke-width="1.3"/>
<line x1="476" y1="1340.86" x2="813.1" y2="1340.86" stroke="#EBEBEB" stroke-width="1.3"/>
<line x1="476" y1="1278.78" x2="813.1" y2="1278.78" stroke="#EBEBEB" stroke-width="1.3"/>
<line x1="476" y1="1216.7" x2="813.1" y2="1216.7" stroke="#EBEBEB" stroke-width="1.3"/>
<line x1="476" y1="1154.62" x2="813.1" y2="1154.62" stroke="#EBEBEB" stroke-width="1.3"/>
<line x1="517.2" y1="1045.3" x2="517.2" y2="1449.3" stroke="#EBEBEB" stroke-width="1.3"/>
<line x1="476" y1="1092.54" x2="813.1" y2="1092.54" stroke="#EBEBEB" stroke-width="1.3"/>
<line x1="589" y1="1045.3" x2="589" y2="1449.3" stroke="#EBEBEB" stroke-width="1.3"/>
<line x1="660.8" y1="1045.3" x2="660.8" y2="1449.3" stroke="#EBEBEB" stroke-width="1.3"/>
<line x1="732.6" y1="1045.3" x2="732.6" y2="1449.3" stroke="#EBEBEB" stroke-width="1.3"/>
<line x1="804.4" y1="1045.3" x2="804.4" y2="1449.3" stroke="#EBEBEB" stroke-width="1.3"/>
<line x1="476" y1="1433.98" x2="813.1" y2="1433.98" stroke="#EBEBEB" stroke-width="1.5"/>
<line x1="476" y1="1371.9" x2="813.1" y2="1371.9" stroke="#EBEBEB" stroke-width="1.5"/>
<line x1="476" y1="1309.82" x2="813.1" y2="1309.82" stroke="#EBEBEB" stroke-width="1.5"/>
<line x1="476" y1="1247.74" x2="813.1" y2="1247.74" stroke="#EBEBEB" stroke-width="1.5"/>
<line x1="476" y1="1185.66" x2="813.1" y2="1185.66" stroke="#EBEBEB" stroke-width="1.5"/>
<line x1="481.3" y1="1045.3" x2="481.3" y2="1449.3" stroke="#EBEBEB" stroke-width="1.5"/>
<line x1="476" y1="1123.58" x2="813.1" y2="1123.58" stroke="#EBEBEB" stroke-width="1.5"/>
<line x1="553.1" y1="1045.3" x2="553.1" y2="1449.3" stroke="#EBEBEB" stroke-width="1.5"/>
<line x1="476" y1="1061.5" x2="813.1" y2="1061.5" stroke="#EBEBEB" stroke-width="1.5"/>
<line x1="624.9" y1="1045.3" x2="624.9" y2="1449.3" stroke="#EBEBEB" stroke-width="1.5"/>
<line x1="696.7" y1="1045.3" x2="696.7" y2="1449.3" stroke="#EBEBEB" stroke-width="1.5"/>
<line x1="768.5" y1="1045.3" x2="768.5" y2="1449.3" stroke="#EBEBEB" stroke-width="1.5"/>
<line x1="476" y1="1155.24" x2="813.1" y2="1155.24" stroke="#555" stroke-width="1.4" stroke-dasharray="6.9 6.86" stroke-dashoffset="-6.55"/>
<line x1="476" y1="1247.12" x2="813.1" y2="1247.12" stroke="#4d4d4d" stroke-width="1.4"/>
<line x1="476" y1="1339" x2="813.1" y2="1339" stroke="#555" stroke-width="1.4" stroke-dasharray="6.9 6.86" stroke-dashoffset="-6.55"/>
<use href="#pt" x="615.5" y="1120.7"/>
<use href="#pt" x="639.6" y="1139.9"/>
<use href="#pt" x="575.8" y="1173.8"/>
<use href="#pt" x="577.3" y="1195.2"/>
<use href="#pt" x="708.1" y="1146"/>
<use href="#pt" x="724.3" y="1179.8"/>
<use href="#pt" x="728.5" y="1192.5"/>
<use href="#pt" x="698.3" y="1188.7"/>
<use href="#pt" x="702" y="1200.2"/>
<use href="#pt" x="670.8" y="1192.3"/>
<use href="#pt" x="528.5" y="1216.2"/>
<use href="#pt" x="517.2" y="1221.8"/>
<use href="#pt" x="490.4" y="1233.1"/>
<use href="#pt" x="497.6" y="1247.5"/>
<use href="#pt" x="587.8" y="1216.2"/>
<use href="#pt" x="582" y="1232.5"/>
<use href="#pt" x="563.1" y="1241.3"/>
<use href="#pt" x="630.4" y="1217.6"/>
<use href="#pt" x="606.1" y="1240.3"/>
<use href="#pt" x="593.3" y="1249.1"/>
<use href="#pt" x="595.4" y="1262.9"/>
<use href="#pt" x="612.9" y="1261.9"/>
<use href="#pt" x="558.3" y="1265"/>
<use href="#pt" x="554.8" y="1272.8"/>
<use href="#pt" x="565.1" y="1280"/>
<use href="#pt" x="607.7" y="1279"/>
<use href="#pt" x="613.5" y="1279"/>
<use href="#pt" x="634" y="1277"/>
<use href="#pt" x="634" y="1277"/>
<use href="#pt" x="630.4" y="1287.6"/>
<use href="#pt" x="642.3" y="1277.9"/>
<use href="#pt" x="505.8" y="1291.3"/>
<use href="#pt" x="576.2" y="1295.2"/>
<use href="#pt" x="535.3" y="1303.5"/>
<use href="#pt" x="767" y="1205.8"/>
<use href="#pt" x="654" y="1210"/>
<use href="#pt" x="654" y="1210"/>
<use href="#pt" x="687.2" y="1206.5"/>
<use href="#pt" x="682.6" y="1214.8"/>
<use href="#pt" x="676" y="1226.2"/>
<use href="#pt" x="681.6" y="1227.7"/>
<use href="#pt" x="645.5" y="1234.4"/>
<use href="#pt" x="658.1" y="1246"/>
<use href="#pt" x="722.2" y="1232.9"/>
<use href="#pt" x="738.9" y="1239.4"/>
<use href="#pt" x="744.7" y="1245"/>
<use href="#pt" x="724.3" y="1248.7"/>
<use href="#pt" x="764.5" y="1257.5"/>
<use href="#pt" x="797.6" y="1253.7"/>
<use href="#pt" x="653.9" y="1260"/>
<use href="#pt" x="665.6" y="1262.1"/>
<use href="#pt" x="669.1" y="1260.2"/>
<use href="#pt" x="675.4" y="1259.6"/>
<use href="#pt" x="672.7" y="1280.4"/>
<use href="#pt" x="718" y="1286.6"/>
<use href="#pt" x="731.6" y="1290.8"/>
<use href="#pt" x="759.1" y="1277.7"/>
<use href="#pt" x="782.6" y="1294.3"/>
<use href="#pt" x="530.9" y="1317.8"/>
<use href="#pt" x="571.7" y="1352.8"/>
<use href="#pt" x="625.6" y="1347.6"/>
<use href="#pt" x="664.5" y="1307.5"/>
<use href="#pt" x="663.9" y="1331"/>
<text x="490.6" y="1140.84" font-size="19.5" fill="#4D4D4D" stroke="#fff" stroke-width="3" paint-order="stroke" stroke-linejoin="round">Upper LOA: 14.9</text>
<text x="490.6" y="1233.12" font-size="19.5" fill="#4D4D4D" stroke="#fff" stroke-width="3" paint-order="stroke" stroke-linejoin="round">Bias: 0.1</text>
<text x="490.6" y="1360.1" font-size="19.5" fill="#4D4D4D" stroke="#fff" stroke-width="3" paint-order="stroke" stroke-linejoin="round">Lower LOA: -14.7</text>
</g>
<text x="475.6" y="1030.7" font-size="24.7" fill="#000">Patients with WMA</text>
<text x="467.2" y="1440.18" font-size="16" fill="#4D4D4D" text-anchor="end">-30</text>
<text x="467.2" y="1378.1" font-size="16" fill="#4D4D4D" text-anchor="end">-20</text>
<text x="467.2" y="1316.02" font-size="16" fill="#4D4D4D" text-anchor="end">-10</text>
<text x="467.2" y="1253.94" font-size="16" fill="#4D4D4D" text-anchor="end">0</text>
<text x="467.2" y="1191.86" font-size="16" fill="#4D4D4D" text-anchor="end">10</text>
<text x="467.2" y="1129.78" font-size="16" fill="#4D4D4D" text-anchor="end">20</text>
<text x="467.2" y="1067.7" font-size="16" fill="#4D4D4D" text-anchor="end">30</text>
<text x="481.3" y="1470.5" font-size="16" fill="#4D4D4D" text-anchor="middle">20</text>
<text x="553.1" y="1470.5" font-size="16" fill="#4D4D4D" text-anchor="middle">30</text>
<text x="624.9" y="1470.5" font-size="16" fill="#4D4D4D" text-anchor="middle">40</text>
<text x="696.7" y="1470.5" font-size="16" fill="#4D4D4D" text-anchor="middle">50</text>
<text x="768.5" y="1470.5" font-size="16" fill="#4D4D4D" text-anchor="middle">60</text>
<text x="476.8" y="1493.4" font-size="20.7" fill="#000">Average of AI-POCUS and Standard</text>
<text transform="translate(434.4,1247.3) rotate(-90)" x="0" y="0" font-size="20.7" fill="#000" text-anchor="middle">Difference (AI-POCUS - Standard)</text>
</svg></body></html>
